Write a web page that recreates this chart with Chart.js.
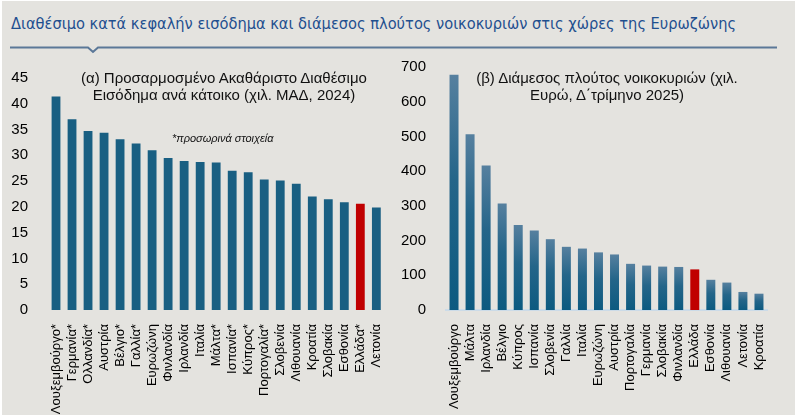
<!DOCTYPE html>
<html>
<head>
<meta charset="utf-8">
<script src="https://cdn.jsdelivr.net/npm/chart.js@4.4.1/dist/chart.umd.min.js"></script>
<style>
    html, body { margin: 0; padding: 0; background: #ffffff; }
    #panel { position: absolute; left: 2px; top: 1px; width: 793px; height: 414px; background: #e4e3df; overflow: hidden; }
    #title { position: absolute; left: 9px; top: 13px; font-family: "Liberation Sans Narrow", "DejaVu Sans Condensed", sans-serif; font-size: 16.25px; color: #1f4f8f; white-space: nowrap; }
    #rule { position: absolute; left: 0; top: 0; }
    canvas { position: absolute; top: -1px; }
    .sub { position: absolute; font-family: "Liberation Sans", Arial, sans-serif; font-size: 15px; line-height: 17px; color: #111; text-align: center; white-space: nowrap; }
    .note { position: absolute; font-family: "Liberation Sans", Arial, sans-serif; font-size: 11px; font-style: italic; color: #111; white-space: nowrap; }
</style>
</head>
<body>
<div id="panel">
    <div id="title">Διαθέσιμο κατά κεφαλήν εισόδημα και διάμεσος πλούτος νοικοκυριών στις χώρες της Ευρωζώνης</div>
    <svg id="rule" width="793" height="60">
        <polyline points="8,46.5 86,46.5 91,51 96,46.5 775,46.5" fill="none" stroke="#5b7898" stroke-width="2"/>
    </svg>
    <canvas id="left" width="398" height="417" style="left:-2px"></canvas>
    <canvas id="right" width="397" height="417" style="left:398px"></canvas>
    <div class="sub" style="left:66px; top:68px; width:312px;">(α) Προσαρμοσμένο Ακαθάριστο Διαθέσιμο<br>Εισόδημα ανά κάτοικο (χιλ. ΜΑΔ, 2024)</div>
    <div class="note" style="left:170px; top:131px;">*προσωρινά στοιχεία</div>
    <div class="sub" style="left:460px; top:68px; width:290px;">(β) Διάμεσος πλούτος νοικοκυριών (χιλ.<br>Ευρώ, Δ΄τρίμηνο 2025)</div>
</div>
<script>
// Data
var leftLabels = ['Λουξεμβούργο*', 'Γερμανία*', 'Ολλανδία*', 'Αυστρία', 'Βέλγιο*', 'Γαλλία*', 'Ευρωζώνη', 'Φινλανδία', 'Ιρλανδία', 'Ιταλία', 'Μάλτα*', 'Ισπανία*', 'Κύπρος*', 'Πορτογαλία*', 'Σλοβενία', 'Λιθουανία', 'Κροατία', 'Σλοβακία', 'Εσθονία', 'Ελλάδα*', 'Λετονία'];
var leftValues = [41.4, 37.0, 34.7, 34.4, 33.1, 32.3, 31.0, 29.5, 28.9, 28.7, 28.6, 27.0, 26.7, 25.3, 25.1, 24.5, 22.0, 21.5, 20.9, 20.6, 19.9];
var leftTicks = [0, 5, 10, 15, 20, 25, 30, 35, 40, 45];

var rightLabels = ['Λουξεμβούργο', 'Μάλτα', 'Ιρλανδία', 'Βέλγιο', 'Κύπρος', 'Ισπανία', 'Σλοβενία', 'Γαλλία', 'Ιταλία', 'Ευρωζώνη', 'Αυστρία', 'Πορτογαλία', 'Γερμανία', 'Σλοβακία', 'Φινλανδία', 'Ελλάδα', 'Εσθονία', 'Λιθουανία', 'Λετονία', 'Κροατία'];
var rightValues = [678, 506, 416, 307, 245, 229, 204, 182, 177, 166, 160, 133, 128, 125, 124, 117, 87, 79, 52, 47];
var rightTicks = [0, 100, 200, 300, 400, 500, 600, 700];

var highlight = 'Ελλάδα';
var red = '#c00000';
var blue = '#195f82';

Chart.defaults.font.family = '"Liberation Sans", Arial, sans-serif';
Chart.defaults.color = '#000';
Chart.defaults.animation = false;
Chart.defaults.devicePixelRatio = 1;

function isGreece(label) {
    return label.replace('*', '') === highlight;
}

function makeOptions(ticks, yWidth, pad, drawBase) {
    return {
        responsive: false,
        layout: { padding: pad },
        plugins: { legend: { display: false }, tooltip: { enabled: false } },
        scales: {
            x: {
                grid: { display: false },
                border: { display: drawBase, color: '#cbdbe8', width: 2 },
                ticks: { minRotation: 90, maxRotation: 90, autoSkip: false, padding: 6, font: { size: 13 } },
                afterFit: function (scale) { scale.height = 417 - 310 - pad.bottom; }
            },
            y: {
                min: ticks[0],
                max: ticks[ticks.length - 1],
                grid: { display: false },
                border: { display: false },
                ticks: { stepSize: ticks[1] - ticks[0], padding: 12, font: { size: 15 } },
                afterFit: function (scale) { scale.width = yWidth; }
            }
        }
    };
}

// Left chart: disposable income per capita
var ctx = document.getElementById('left');
var leftChart = new Chart(ctx, {
    type: 'bar',
    data: {
        labels: leftLabels,
        datasets: [{
            data: leftValues,
            backgroundColor: leftLabels.map(function (l) { return isGreece(l) ? red : blue; }),
            categoryPercentage: 1,
            barPercentage: 0.55
        }]
    },
    options: makeOptions(leftTicks, 48, { top: 78, right: 2, bottom: 0, left: 0 }, false)
});

// Right chart: median household wealth (gradient bars)
function barGradient(c) {
    var chart = c.chart;
    if (!chart.chartArea) return blue;
    if (isGreece(rightLabels[c.dataIndex])) return red;
    var y = chart.scales.y;
    var top = y.getPixelForValue(c.raw);
    var bottom = y.getPixelForValue(0);
    var g = chart.ctx.createLinearGradient(0, top, 0, bottom);
    g.addColorStop(0, '#56809f');
    g.addColorStop(0.45, '#246589');
    g.addColorStop(1, '#0c5a80');
    return g;
}

var ctx = document.getElementById('right');
var rightChart = new Chart(ctx, {
    type: 'bar',
    data: {
        labels: rightLabels,
        datasets: [{
            data: rightValues,
            backgroundColor: barGradient,
            categoryPercentage: 1,
            barPercentage: 0.56
        }]
    },
    options: makeOptions(rightTicks, 46, { top: 67, right: 30, bottom: 0, left: 0 }, true)
});
</script>
</body>
</html>
